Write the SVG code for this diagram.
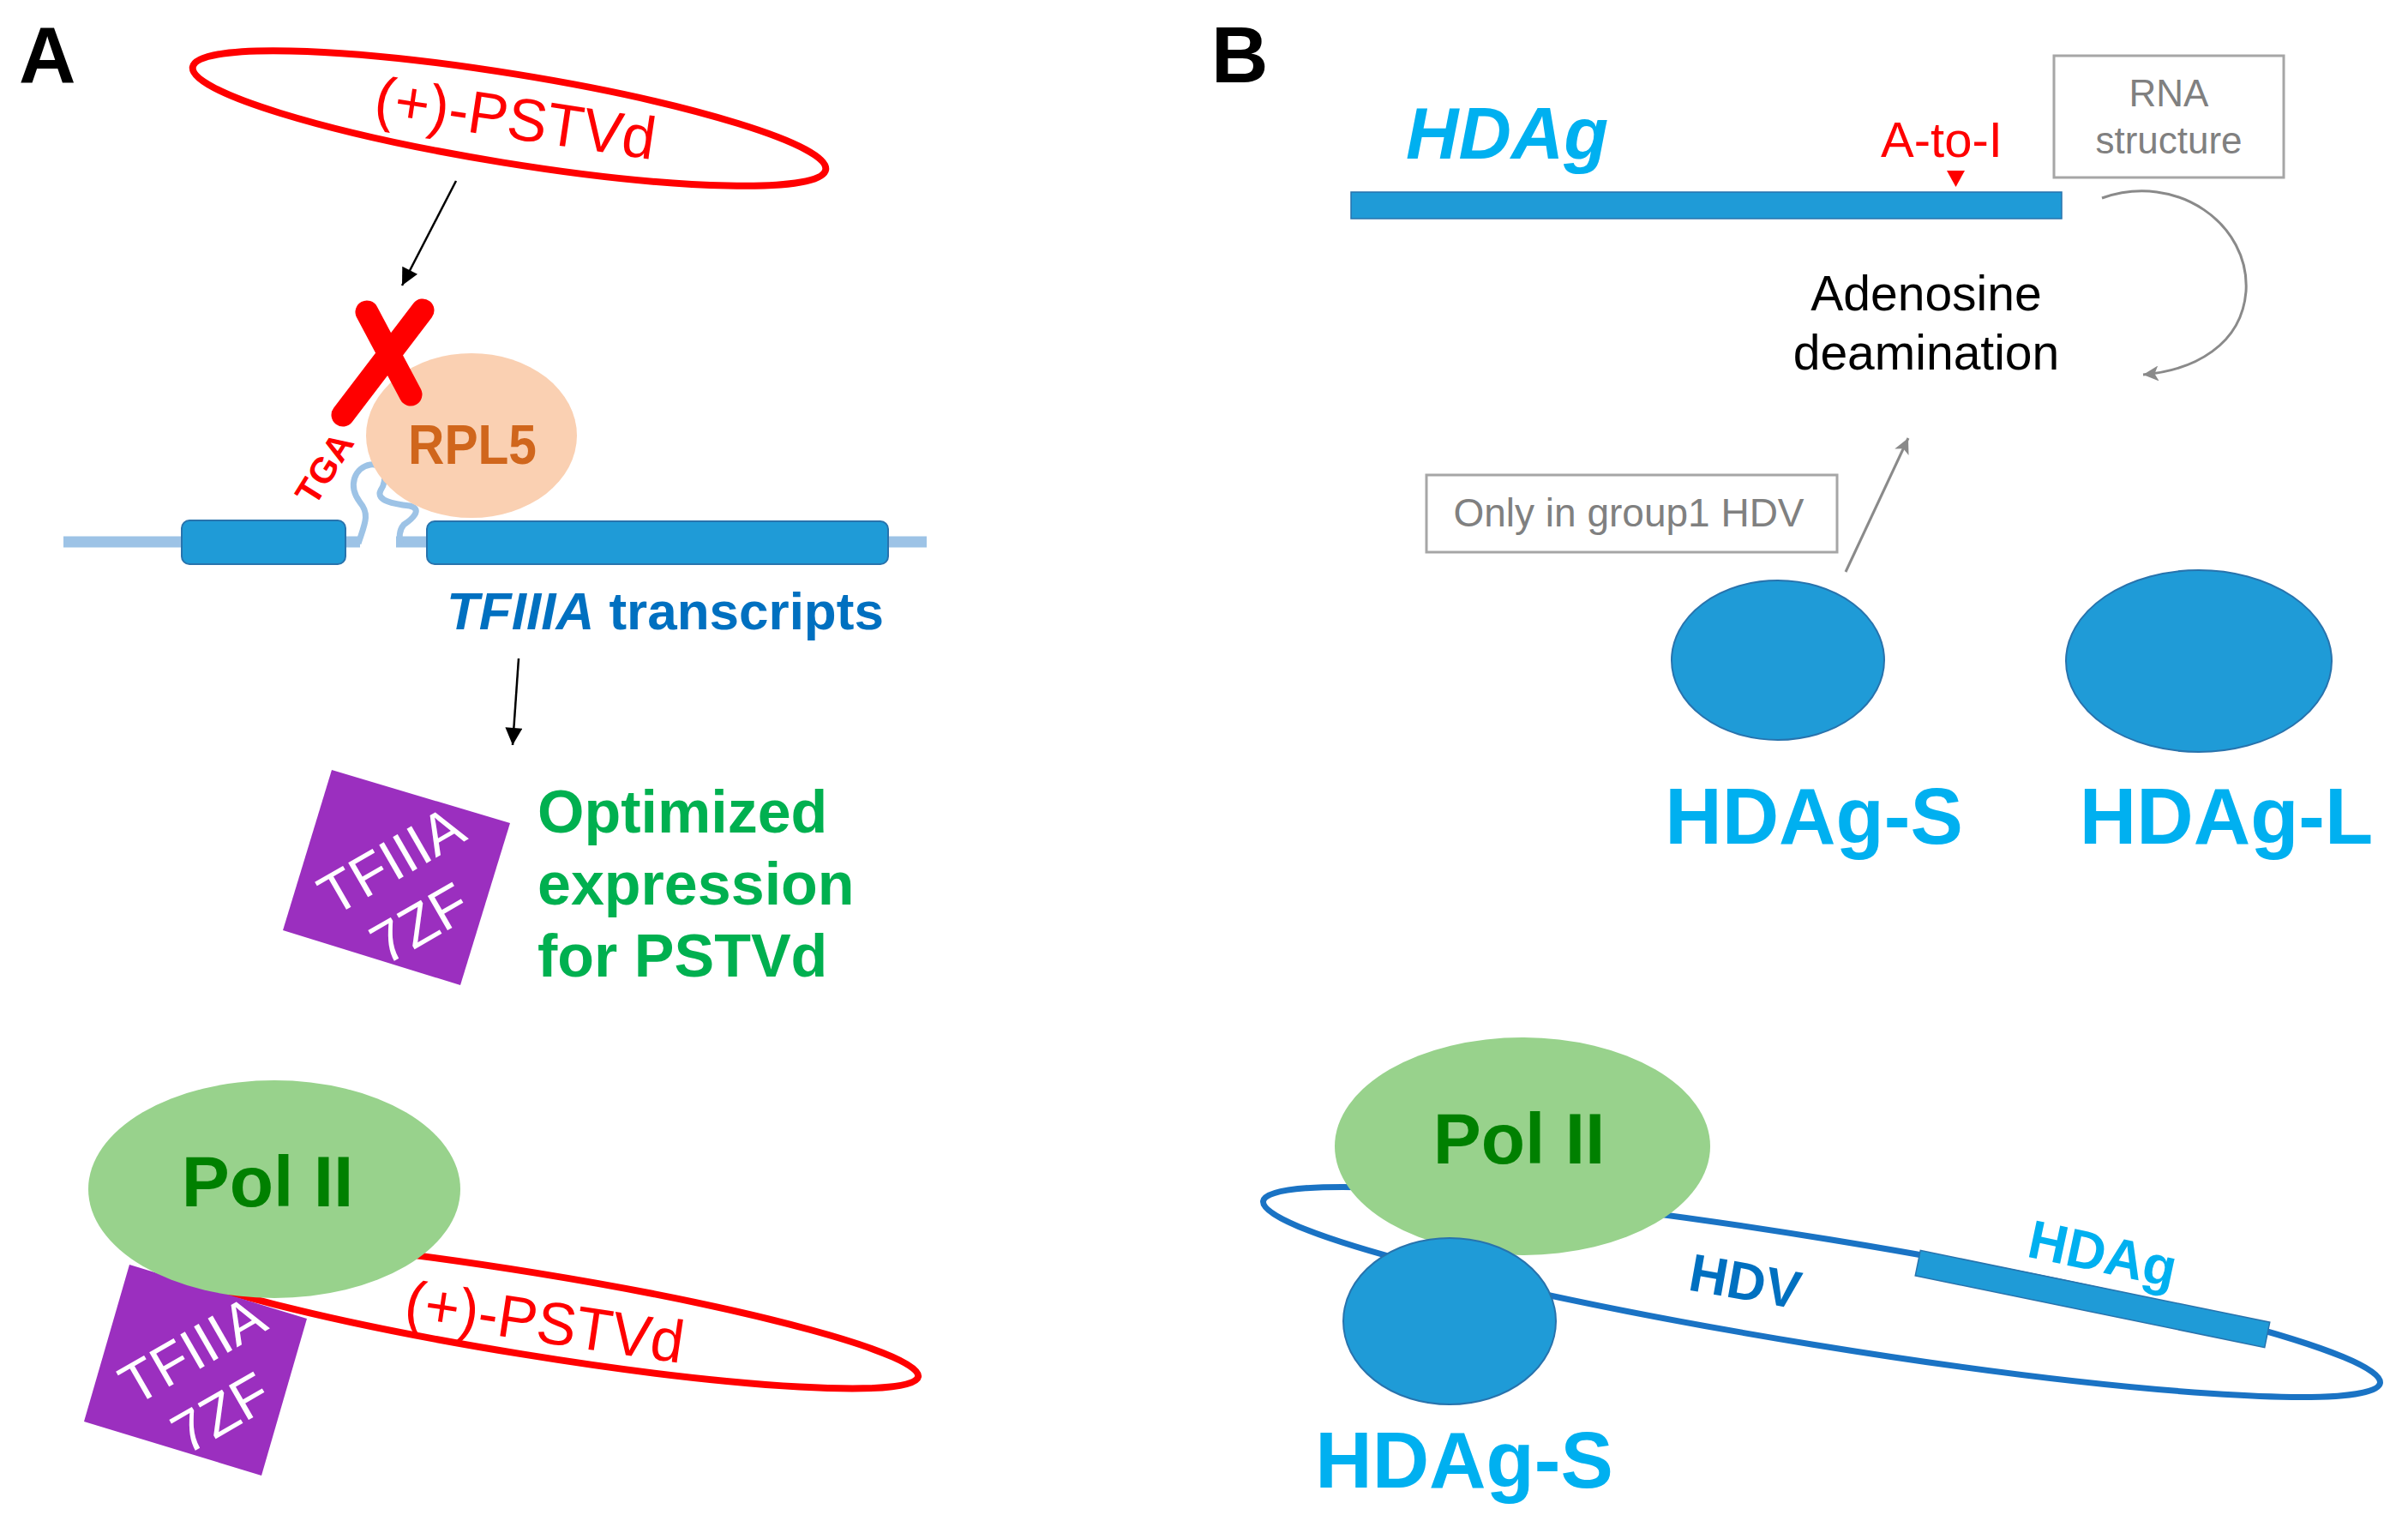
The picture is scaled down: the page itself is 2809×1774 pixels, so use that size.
<svg xmlns="http://www.w3.org/2000/svg" width="2809" height="1774" viewBox="0 0 2809 1774">
<defs>
<style>
text{font-family:"Liberation Sans",Arial,sans-serif}
.b{font-weight:bold}
.red{fill:#ff0000}
.cyan{fill:#00b0f0}
.dblue{fill:#0070c0}
.gray{fill:#808080}
.blob{fill:#1f9bd7;stroke:#2873ad;stroke-width:2}
.pol{fill:#98d28c}
.polt{fill:#008000;font-weight:bold;font-size:84px;text-anchor:middle}
.purple{fill:#9b2fbf}
.wt{fill:#ffffff;font-size:67px;text-anchor:middle}
.conn{stroke:#000;stroke-width:2.5;fill:none}
.gconn{stroke:#8a8a8a;stroke-width:3;fill:none}
.box{fill:#fff;stroke:#a6a6a6;stroke-width:3}
</style>
<marker id="ah" viewBox="0 0 20 20" refX="20" refY="10" markerWidth="22" markerHeight="20" markerUnits="userSpaceOnUse" orient="auto"><path d="M0,0 L20,10 L0,20 z" fill="#000"/></marker>
<marker id="gah" viewBox="0 0 20 20" refX="20" refY="10" markerWidth="22" markerHeight="18" markerUnits="userSpaceOnUse" orient="auto"><path d="M0,0 L20,10 L0,20 L5,10 z" fill="#8a8a8a"/></marker>
</defs>
<rect width="2809" height="1774" fill="#fff"/>

<!-- Panel labels -->
<text id="labelA" x="22" y="96" class="b" font-size="92">A</text>
<text id="labelB" x="1413" y="96" class="b" font-size="92">B</text>

<!-- ===== Panel A ===== -->
<g id="pstvd-top">
<ellipse cx="594" cy="138" rx="374" ry="52" transform="rotate(9.2 594 138)" fill="none" stroke="#ff0000" stroke-width="8"/>
<text transform="translate(601,140) rotate(8.5)" y="22" class="red" font-size="70" text-anchor="middle" textLength="330" lengthAdjust="spacingAndGlyphs">(+)-PSTVd</text>
</g>

<g id="transcript">
<line x1="74" y1="632" x2="420" y2="632" stroke="#9dc3e6" stroke-width="13"/>
<line x1="462" y1="632" x2="1081" y2="632" stroke="#9dc3e6" stroke-width="13"/>
<path d="M418,634 C425,612 432,600 420,586 C405,566 414,545 432,542 C450,540 452,560 444,572 C438,584 460,588 478,590 C494,594 480,606 471,612 C465,619 466,627 467,634" fill="none" stroke="#9dc3e6" stroke-width="7"/>
<rect x="212" y="607" width="191" height="51" rx="9" class="blob"/>
<rect x="498" y="608" width="538" height="50" rx="9" class="blob"/>
</g>

<g id="rpl5">
<ellipse cx="550" cy="508" rx="123" ry="96" fill="#fad0b2"/>
<text x="551" y="541" font-size="64" class="b" fill="#d0661c" text-anchor="middle" textLength="150" lengthAdjust="spacingAndGlyphs">RPL5</text>
</g>

<g id="tga">
<text transform="translate(378,546) rotate(-58)" y="15" font-size="42" class="b red" text-anchor="middle">TGA</text>
</g>

<g id="block-x">
<line x1="428" y1="364" x2="479" y2="460" stroke="#ff0000" stroke-width="27" stroke-linecap="round"/>
<line x1="493" y1="362" x2="400" y2="484" stroke="#ff0000" stroke-width="27" stroke-linecap="round"/>
</g>

<g id="transcript-label">
<text x="521" y="734" font-size="62" class="b dblue"><tspan font-style="italic">TFIIIA</tspan> transcripts</text>
</g>

<g id="tfiiia-top">
<polygon points="387,898 595,960 537,1149 330,1085" class="purple"/>
<g transform="translate(456,1003) rotate(-30)">
<text y="24" class="wt">TFIIIA</text>
<text x="-8" y="104" class="wt">7ZF</text>
</g>
</g>

<g id="optimized">
<text font-size="70" class="b" fill="#00b050"><tspan x="627" y="971">Optimized</tspan><tspan x="627" y="1055">expression</tspan><tspan x="627" y="1139">for PSTVd</tspan></text>
</g>

<g id="complex-A">
<ellipse cx="617" cy="1532" rx="460" ry="48" transform="rotate(9.2 617 1532)" fill="none" stroke="#ff0000" stroke-width="8"/>
<text transform="translate(636,1538) rotate(8.5)" y="28" class="red" font-size="70" text-anchor="middle" textLength="328" lengthAdjust="spacingAndGlyphs">(+)-PSTVd</text>
<polygon points="151,1475 358,1538 305,1721 98,1658" class="purple"/>
<g transform="translate(224,1574) rotate(-30)">
<text y="24" class="wt">TFIIIA</text>
<text x="-8" y="104" class="wt">7ZF</text>
</g>
<ellipse cx="320" cy="1387" rx="217" ry="127" class="pol"/>
<text x="312" y="1407" class="polt">Pol II</text>
</g>

<!-- ===== Panel B ===== -->
<g id="hdag-gene">
<text x="1640" y="185" font-size="85" class="b cyan" font-style="italic">HDAg</text>
<rect x="1576" y="224" width="829" height="31" fill="#1f9bd7" stroke="#2873ad" stroke-width="1.5"/>
<text x="2265" y="183" font-size="58" class="red" text-anchor="middle">A-to-I</text>
<polygon points="2271,199 2292,199 2281.5,218" fill="#ff0000"/>
</g>

<g id="rna-structure">
<rect x="2396" y="65" width="268" height="142" class="box"/>
<text x="2530" y="124" font-size="44" class="gray" text-anchor="middle">RNA</text>
<text x="2530" y="179" font-size="44" class="gray" text-anchor="middle">structure</text>
</g>

<g id="deamination">
<text x="2247" y="362" font-size="57" text-anchor="middle" fill="#000">Adenosine</text>
<text x="2247" y="431" font-size="57" text-anchor="middle" fill="#000">deamination</text>
</g>

<g id="group1">
<rect x="1664" y="554" width="479" height="90" class="box"/>
<text x="1900" y="614" font-size="46" class="gray" text-anchor="middle">Only in group1 HDV</text>
</g>

<g id="hdag-s">
<ellipse cx="2074" cy="770" rx="124" ry="93" class="blob"/>
<text x="2116" y="984" font-size="92" class="b cyan" text-anchor="middle">HDAg-S</text>
</g>

<g id="hdag-l">
<ellipse cx="2565" cy="771" rx="155" ry="106" class="blob"/>
<text x="2597" y="984" font-size="92" class="b cyan" text-anchor="middle">HDAg-L</text>
</g>

<g id="complex-B">
<ellipse cx="2125" cy="1507" rx="660" ry="62" transform="rotate(9.25 2125 1507)" fill="none" stroke="#1a73c4" stroke-width="7"/>
<rect x="2233" y="1500" width="416" height="30" transform="rotate(11.6 2441 1515)" fill="#1f9bd7" stroke="#2873ad" stroke-width="1.5"/>
<text transform="translate(2036,1494) rotate(10)" y="22" font-size="62" class="b dblue" text-anchor="middle">HDV</text>
<text transform="translate(2453,1462) rotate(12)" y="22" font-size="63" class="b cyan" text-anchor="middle">HDAg</text>
<ellipse cx="1776" cy="1337" rx="219" ry="127" class="pol"/>
<text x="1772" y="1357" class="polt">Pol II</text>
<ellipse cx="1691" cy="1541" rx="124" ry="97" class="blob"/>
<text x="1708" y="1735" font-size="92" class="b cyan" text-anchor="middle">HDAg-S</text>
</g>

<!-- connectors -->
<g id="connectors">
<line x1="532" y1="211" x2="469" y2="333" class="conn" marker-end="url(#ah)"/>
<line x1="605" y1="768" x2="598" y2="869" class="conn" marker-end="url(#ah)"/>
<line x1="2153" y1="667" x2="2226" y2="511" class="gconn" marker-end="url(#gah)"/>
<path d="M2452,231 C2540,200 2625,262 2620,340 C2615,402 2560,432 2500,437" class="gconn" marker-end="url(#gah)"/>
</g>
</svg>
